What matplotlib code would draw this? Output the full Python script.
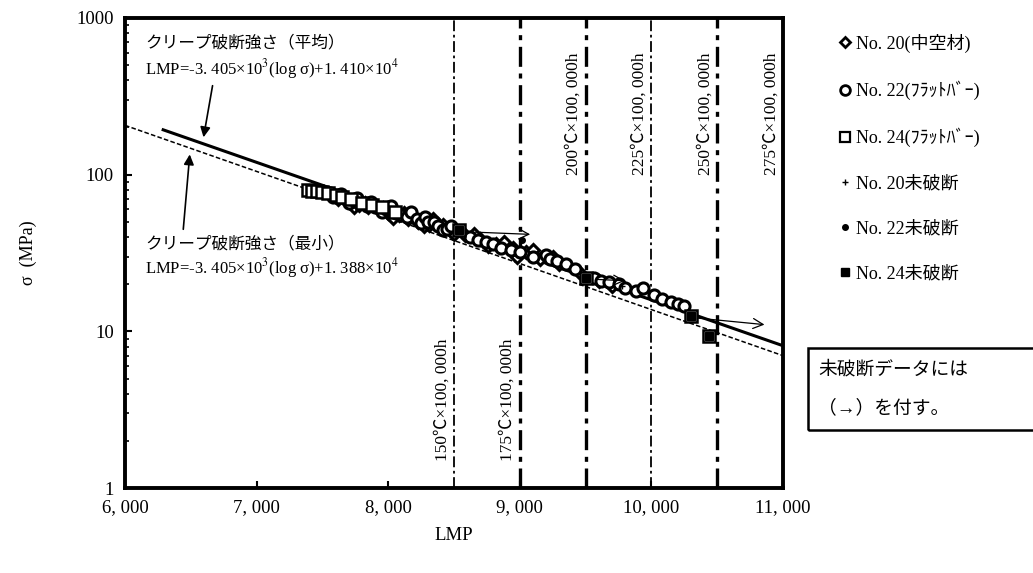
import matplotlib
matplotlib.use('Agg')
import matplotlib.pyplot as plt
from matplotlib.lines import Line2D
from matplotlib.patches import Rectangle

plt.rcParams['font.family'] = ['Liberation Serif', 'Noto Sans CJK JP']
plt.rcParams['mathtext.fontset'] = 'stix'

# データ
lmp24 = [7390, 7420, 7460, 7500, 7540, 7600, 7650, 7720, 7800, 7880, 7950, 8050,
         8540, 9500, 10300, 10440]
sig24 = [80, 78, 79, 77, 76, 74, 72, 70, 66, 64, 62, 58,
         44, 22, 12.5, 9.4]

lmp22 = [7560, 7580, 7620, 7640, 7680, 7700, 7750, 7760, 7820, 7840, 7870, 7900,
         7950, 7980, 8020, 8060, 8100, 8140, 8170, 8220, 8250, 8280, 8300, 8350,
         8380, 8420, 8450, 8480, 8620, 8680, 8740, 8800, 8860, 8930, 9000, 9100,
         9200, 9230, 9280, 9350, 9420, 9560, 9620, 9680, 9750, 9800, 9880, 9935,
         10020, 10080, 10150, 10200, 10250]
sig22 = [76, 72, 73, 75, 70, 66, 68, 71, 65, 63, 67, 62,
         58, 60, 63, 57, 55, 54, 58, 52, 49, 54, 50, 50,
         47, 44, 45, 47, 40, 38, 37, 36, 34, 33, 32, 30,
         30.7, 29, 28, 27, 25, 22, 21, 20.5, 20, 19, 18, 18.9,
         17, 16, 15.5, 15, 14.5]

lmp20 = [7620, 7700, 7740, 7780, 7820, 7850, 7930, 7960, 8000, 8040, 8080, 8120,
         8150, 8200, 8230, 8270, 8310, 8340, 8390, 8420, 8470, 8500, 8580, 8650,
         8700, 8760, 8820, 8880, 8950, 8980, 9050, 9100, 9150, 9250, 9300, 9450,
         9600, 9700]
sig20 = [70, 67, 62, 64, 66, 62, 60, 61, 57, 53, 55, 57,
         52, 53, 50, 47, 48, 52, 46, 48, 44, 42, 41, 42,
         39, 35, 36, 37, 34, 30, 32, 33, 29, 30, 27, 24,
         21, 19.5]

# 未破断データ
lmp24u = [8540, 9500, 10300, 10440]
sig24u = [44, 22, 12.5, 9.4]
lmp22u = [9020]
sig22u = [38]
lmp20u = [9780]
sig20u = [19.5]

# 未破断の矢印 (始点 -> 終点)
arr_lmp0 = [8640, 9560, 10330]
arr_sig0 = [43, 21.5, 12.2]
arr_lmp1 = [9100, 9820, 10880]
arr_sig1 = [41.5, 21, 11]

# 寿命線 (温度 x 100,000h)
temp_lmp = [8500, 9000, 9500, 10000, 10500, 11000]
temp_labels = ['150℃×100, 000h', '175℃×100, 000h', '200℃×100, 000h',
               '225℃×100, 000h', '250℃×100, 000h', '275℃×100, 000h']

# クリープ破断強さの線 LMP = -3405 log(sigma) + C
line_lmp_avg = [6290, 11000]
line_sig_avg = [193, 8.1]
line_lmp_min = [6000, 11000]
line_sig_min = [206, 7.0]

fig = plt.figure(figsize=(10.33, 5.73), dpi=100)
ax = fig.add_axes([0.121, 0.148, 0.637, 0.821])

ax.set_yscale('log')
ax.set_xlim(6000, 11000)
ax.set_ylim(1, 1000)

# 温度線
lw_list = [1.3, 2.4, 2.4, 1.3, 2.4, 2.4]
for x, lw in zip(temp_lmp, lw_list):
    ax.axvline(x, color='black', lw=lw, ls=(0, (6, 2, 1.5, 2)), zorder=1)

for x, lab in zip(temp_lmp[:2], temp_labels[:2]):
    ax.text(x - 90, 1.5, lab, rotation=90, ha='center', va='bottom', fontsize=12.5)
for x, lab in zip(temp_lmp[2:], temp_labels[2:]):
    ax.text(x - 90, 100, lab, rotation=90, ha='center', va='bottom', fontsize=12.5)

# 破断強さの線
ax.plot(line_lmp_avg, line_sig_avg, color='black', lw=2.2, zorder=2)
ax.plot(line_lmp_min, line_sig_min, color='black', lw=1.1, ls=(0, (3, 1.5)), zorder=2)

# 測定点
ax.plot(lmp20, sig20, ls='none', marker='D', ms=6, mfc='white', mec='black', mew=2.2, zorder=3)
ax.plot(lmp22, sig22, ls='none', marker='o', ms=8, mfc='white', mec='black', mew=2.2, zorder=3)
ax.plot(lmp24, sig24, ls='none', marker='s', ms=8, mfc='white', mec='black', mew=1.8, zorder=3)
ax.plot(lmp20u, sig20u, ls='none', marker='+', ms=4, mec='black', mew=1.0, zorder=4)
ax.plot(lmp22u, sig22u, ls='none', marker='o', ms=4, mfc='black', mec='black', zorder=4)
ax.plot(lmp24u, sig24u, ls='none', marker='s', ms=6, mfc='black', mec='black', zorder=4)

for x0, y0, x1, y1 in zip(arr_lmp0, arr_sig0, arr_lmp1, arr_sig1):
    ax.annotate('', xy=(x1, y1), xytext=(x0, y0),
                arrowprops=dict(arrowstyle='->', color='black', lw=0.9,
                                mutation_scale=18), zorder=4)

# 注記
ax.text(6152, 690, 'クリープ破断強さ（平均）', fontsize=12, va='center')
ax.text(6152, 470, 'LMP=-3. 405×10$^3$(log σ)+1. 410×10$^4$', fontsize=12, va='center')
ax.annotate('', xy=(6593, 166), xytext=(6669, 384),
            arrowprops=dict(arrowstyle='-|>', color='black', lw=1.2, mutation_scale=15))
ax.text(6152, 36, 'クリープ破断強さ（最小）', fontsize=12, va='center')
ax.text(6152, 25.5, 'LMP=-3. 405×10$^3$(log σ)+1. 388×10$^4$', fontsize=12, va='center')
ax.annotate('', xy=(6494, 140), xytext=(6441, 43),
            arrowprops=dict(arrowstyle='-|>', color='black', lw=1.2, mutation_scale=15))

# 軸
ax.set_xticks([6000, 7000, 8000, 9000, 10000, 11000])
ax.set_xticklabels(['6, 000', '7, 000', '8, 000', '9, 000', '10, 000', '11, 000'])
ax.set_yticks([1, 10, 100, 1000])
ax.set_yticklabels(['1', '10', '100', '1000'])
ax.tick_params(axis='both', which='major', direction='in', length=5, width=1.5,
               labelsize=13.5, pad=8)
ax.tick_params(axis='y', which='minor', direction='in', length=3, width=1.2)
ax.set_xlabel('LMP', fontsize=13.5, labelpad=8)
ax.set_ylabel('σ  (MPa)', fontsize=13, labelpad=28)
for sp in ax.spines.values():
    sp.set_linewidth(2.8)

# 凡例
handles = [
    Line2D([], [], ls='none', marker='D', ms=5, mfc='white', mec='black', mew=2.0),
    Line2D([], [], ls='none', marker='o', ms=7, mfc='white', mec='black', mew=2.0),
    Line2D([], [], ls='none', marker='s', ms=7, mfc='white', mec='black', mew=1.6),
    Line2D([], [], ls='none', marker='+', ms=4, mec='black', mew=1.0),
    Line2D([], [], ls='none', marker='o', ms=4, mfc='black', mec='black'),
    Line2D([], [], ls='none', marker='s', ms=6, mfc='black', mec='black'),
]
labels = ['No. 20(中空材)', 'No. 22(ﾌﾗｯﾄﾊﾞｰ)', 'No. 24(ﾌﾗｯﾄﾊﾞｰ)',
          'No. 20未破断', 'No. 22未破断', 'No. 24未破断']
fig.legend(handles, labels, loc='upper left', bbox_to_anchor=(0.795, 0.97),
           frameon=False, fontsize=13, labelspacing=1.55, handlelength=0.8,
           handletextpad=0.2)

# 注記の枠
fig.patches.append(Rectangle((808 / 1033, 1 - 430 / 573), 0.25, 82 / 573,
                             transform=fig.transFigure, fill=False,
                             ec='black', lw=1.8))
fig.text(818 / 1033, 1 - 370 / 573, '未破断データには', fontsize=13.5, va='center')
fig.text(818 / 1033, 1 - 408 / 573, '（→）を付す。', fontsize=13.5, va='center')

fig.savefig('out.png', dpi=100)
